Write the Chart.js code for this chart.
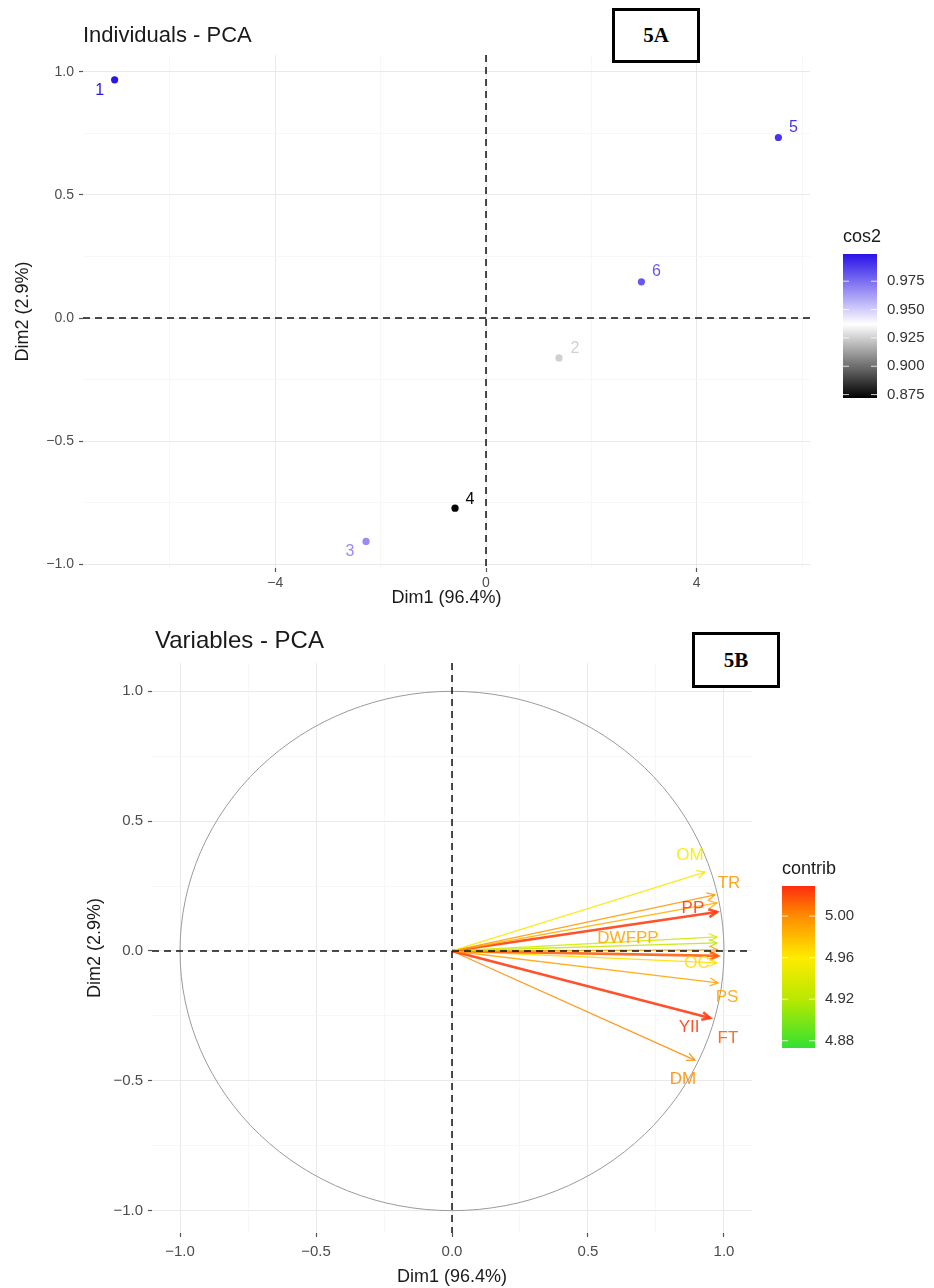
<!DOCTYPE html>
<html>
<head>
<meta charset="utf-8">
<script src="https://cdn.jsdelivr.net/npm/chart.js@4.4.1/dist/chart.umd.min.js"></script>
<style>
html, body { margin: 0; padding: 0; background: #fff; }
#wrap { position: relative; width: 934px; height: 1288px; overflow: hidden; }
#chartA { position: absolute; left: 0; top: 0; }
#chartB { position: absolute; left: 0; top: 610px; }
.tag {
    position: absolute; box-sizing: border-box; border: 3px solid #000; background: #fff;
    font: bold 21px "Liberation Serif", "Times New Roman", serif; color: #000;
    display: flex; align-items: center; justify-content: center;
}
</style>
</head>
<body>
<div id="wrap">
    <canvas id="chartA" width="934" height="610"></canvas>
    <canvas id="chartB" width="934" height="678"></canvas>
    <div class="tag" style="left:612px;top:8px;width:88px;height:55px;">5A</div>
    <div class="tag" style="left:692px;top:632px;width:88px;height:56px;">5B</div>
</div>
<script>
// Individuals (graph 5A)
const indLabels = ['1', '2', '3', '4', '5', '6'];
const indDim1 = [-7.05, 1.385, -2.277, -0.588, 5.55, 2.95];
const indDim2 = [0.967, -0.162, -0.907, -0.772, 0.733, 0.147];
const indCos2 = [0.998, 0.925, 0.967, 0.873, 0.990, 0.981];
const xTicksA = [-4, 0, 4];
const yTicksA = [-1, -0.5, 0, 0.5, 1];
const cos2Ticks = [0.875, 0.900, 0.925, 0.950, 0.975];
const cos2Range = [0.872, 0.999];

// Variables (graph 5B)
const varNames = ['OM', 'TR', '', 'PP', '', '', 'DWFPP', 'FT', 'OC', 'PS', 'YII', 'DM'];
const varDim1 = [0.930, 0.967, 0.974, 0.974, 0.974, 0.974, 0.978, 0.978, 0.974, 0.978, 0.949, 0.893];
const varDim2 = [0.304, 0.216, 0.185, 0.150, 0.054, 0.031, 0.004, -0.019, -0.046, -0.123, -0.258, -0.420];
const varContrib = [4.955, 4.995, 4.985, 5.025, 4.935, 4.925, 4.990, 5.015, 4.965, 4.990, 5.025, 5.000];
const ticksB = [-1, -0.5, 0, 0.5, 1];
const contribTicks = [4.88, 4.92, 4.96, 5.00];
const contribRange = [4.873, 5.029];

const fontFamily = '"Liberation Sans", Arial, Helvetica, sans-serif';

// colour gradients of the two legends
const cos2Stops = [[0.872, [0, 0, 0]], [0.937, [255, 255, 255]], [0.999, [40, 18, 232]]];
const contribStops = [[4.873, [50, 225, 50]], [4.92, [185, 232, 0]], [4.96, [255, 235, 0]], [5.00, [255, 140, 0]], [5.029, [255, 45, 15]]];

// pixel offsets of the text labels (ggrepel placement in the picture)
const indLabelOffset = [[-15, 11], [16, -9], [-16, 10], [15, -9], [15, -10], [15, -10]];
const varLabelOffset = [[-15, -17], [14, -12], null, [-24, -4], null, null, [-90, -12], [10, 82], [-20, 0], [9, 14], [-21, 9], [-12, 19]];

const mixStops = (stops, v) => {
    if (v <= stops[0][0]) return stops[0][1];
    for (let i = 1; i < stops.length; i++) {
        if (v <= stops[i][0]) {
            const [v0, c0] = stops[i - 1];
            const [v1, c1] = stops[i];
            const t = (v - v0) / (v1 - v0);
            return c0.map((c, k) => Math.round(c + (c1[k] - c) * t));
        }
    }
    return stops[stops.length - 1][1];
};
const rgb = (c, a = 1) => `rgba(${c[0]}, ${c[1]}, ${c[2]}, ${a})`;
const signed = (v, d) => (v < 0 ? '\u2212' : '') + Math.abs(v).toFixed(d);

// majors plus ggplot-like minor lines halfway between them
const withMinor = (majors, min, max) => {
    const step = majors[1] - majors[0];
    const out = [];
    for (let v = majors[0] - step / 2; v <= majors[majors.length - 1] + step / 2 + 1e-9; v += step / 2) {
        if (v >= min && v <= max) out.push(Math.round(v * 1000) / 1000);
    }
    return out;
};
const isMajor = (majors, v) => majors.some(m => Math.abs(m - v) < 1e-6);

const makeAxis = (cfg) => ({
    type: 'linear',
    position: cfg.position,
    min: cfg.min,
    max: cfg.max,
    afterBuildTicks: s => { s.ticks = withMinor(cfg.majors, cfg.min, cfg.max).map(v => ({ value: v })); },
    afterFit: s => {
        if (cfg.position === 'left') s.width = cfg.size; else s.height = cfg.size;
    },
    ticks: {
        autoSkip: false, maxRotation: 0, padding: cfg.tickPad,
        color: '#4d4d4d', font: { family: fontFamily, size: cfg.tickSize },
        callback: v => isMajor(cfg.majors, v) ? cfg.fmt(v) : ''
    },
    grid: {
        color: ctx => isMajor(cfg.majors, ctx.tick.value) ? '#e9e9e9' : '#f4f4f4',
        lineWidth: ctx => isMajor(cfg.majors, ctx.tick.value) ? 1 : 0.7,
        tickColor: ctx => isMajor(cfg.majors, ctx.tick.value) ? '#555' : 'rgba(0,0,0,0)',
        tickLength: 4, tickWidth: 1.2
    },
    border: { display: false },
    title: {
        display: true, text: cfg.title, color: '#1a1a1a',
        font: { family: fontFamily, size: 18 }, padding: cfg.titlePad
    }
});

const drawColorbar = (ctx, cb) => {
    const span = cb.range[1] - cb.range[0];
    const g = ctx.createLinearGradient(0, cb.top + cb.h, 0, cb.top);
    cb.stops.forEach(([v, c]) => g.addColorStop(Math.min(1, Math.max(0, (v - cb.range[0]) / span)), rgb(c)));
    ctx.fillStyle = g;
    ctx.fillRect(cb.x, cb.top, cb.w, cb.h);
    ctx.font = `15px ${fontFamily}`;
    ctx.textBaseline = 'middle';
    ctx.textAlign = 'left';
    cb.ticks.forEach(v => {
        const y = cb.top + (cb.range[1] - v) / span * cb.h;
        ctx.strokeStyle = 'rgba(255,255,255,0.8)';
        ctx.lineWidth = 1;
        ctx.beginPath();
        ctx.moveTo(cb.x, y); ctx.lineTo(cb.x + 6, y);
        ctx.moveTo(cb.x + cb.w - 6, y); ctx.lineTo(cb.x + cb.w, y);
        ctx.stroke();
        ctx.fillStyle = '#333';
        ctx.fillText(cb.fmt(v), cb.x + cb.w + 10, y);
    });
    ctx.fillStyle = '#1a1a1a';
    ctx.font = `18px ${fontFamily}`;
    ctx.fillText(cb.title, cb.x, cb.top - 17);
};

const drawZeroLines = (chart) => {
    const { ctx, chartArea: a, scales: { x, y } } = chart;
    ctx.save();
    ctx.strokeStyle = '#111';
    ctx.lineWidth = 1.5;
    ctx.setLineDash([7, 5]);
    ctx.beginPath();
    ctx.moveTo(a.left, y.getPixelForValue(0)); ctx.lineTo(a.right, y.getPixelForValue(0));
    ctx.moveTo(x.getPixelForValue(0), a.top); ctx.lineTo(x.getPixelForValue(0), a.bottom);
    ctx.stroke();
    ctx.restore();
};

const drawTitle = (chart, text, size, dx, ty) => {
    const { ctx, chartArea: a } = chart;
    ctx.save();
    ctx.fillStyle = '#1a1a1a';
    ctx.font = `${size}px ${fontFamily}`;
    ctx.textBaseline = 'middle';
    ctx.fillText(text, a.left + dx, ty);
    ctx.restore();
};

// ---------- 5A : individuals ----------
const indColors = indCos2.map(c => rgb(mixStops(cos2Stops, c)));

const indPlugin = {
    id: 'indPlugin',
    beforeDatasetsDraw(chart) { drawZeroLines(chart); },
    afterDatasetsDraw(chart) {
        const { ctx } = chart;
        const meta = chart.getDatasetMeta(0);
        ctx.save();
        ctx.font = `16px ${fontFamily}`;
        ctx.textAlign = 'center';
        ctx.textBaseline = 'middle';
        meta.data.forEach((pt, i) => {
            ctx.fillStyle = indColors[i];
            ctx.fillText(indLabels[i], pt.x + indLabelOffset[i][0], pt.y + indLabelOffset[i][1]);
        });
        ctx.restore();
    },
    afterDraw(chart) {
        drawTitle(chart, 'Individuals - PCA', 22, 0, 36);
        chart.ctx.save();
        drawColorbar(chart.ctx, {
            x: 843, top: 254, w: 34, h: 144, range: cos2Range, stops: cos2Stops,
            ticks: cos2Ticks, title: 'cos2', fmt: v => v.toFixed(3)
        });
        chart.ctx.restore();
    }
};

new Chart(document.getElementById('chartA'), {
    type: 'scatter',
    data: {
        datasets: [{
            data: indDim1.map((x, i) => ({ x, y: indDim2[i] })),
            backgroundColor: indColors,
            borderWidth: 0,
            pointRadius: 3.6
        }]
    },
    options: {
        responsive: false,
        animation: false,
        layout: { padding: { left: 0, right: 124, top: 55, bottom: 0 } },
        plugins: { legend: { display: false }, tooltip: { enabled: false } },
        scales: {
            x: makeAxis({ position: 'bottom', min: -7.65, max: 6.15, majors: xTicksA, size: 42, tickSize: 14, tickPad: 3,
                fmt: v => signed(v, 0), title: 'Dim1 (96.4%)', titlePad: { top: 0, bottom: 1 } }),
            y: makeAxis({ position: 'left', min: -1.015, max: 1.068, majors: yTicksA, size: 83, tickSize: 14, tickPad: 5,
                fmt: v => signed(v, 1), title: 'Dim2 (2.9%)', titlePad: { top: 12, bottom: 0 } })
        }
    },
    plugins: [indPlugin]
});

// ---------- 5B : variables ----------
const varColors = varContrib.map(c => rgb(mixStops(contribStops, c), 0.88));

const varPlugin = {
    id: 'varPlugin',
    beforeDatasetsDraw(chart) {
        const { ctx, scales: { x, y } } = chart;
        const cx = x.getPixelForValue(0), cy = y.getPixelForValue(0);
        ctx.save();
        ctx.strokeStyle = '#9a9a9a';
        ctx.lineWidth = 1;
        ctx.beginPath();
        ctx.ellipse(cx, cy, x.getPixelForValue(1) - cx, cy - y.getPixelForValue(1), 0, 0, Math.PI * 2);
        ctx.stroke();
        ctx.restore();
    },
    afterDatasetsDraw(chart) {
        const { ctx } = chart;
        ctx.save();
        chart.data.datasets.forEach((ds, i) => {
            const [p0, p1] = chart.getDatasetMeta(i).data;
            const ang = Math.atan2(p1.y - p0.y, p1.x - p0.x);
            const L = 9, h = 0.45;
            ctx.strokeStyle = ds.borderColor;
            ctx.lineWidth = ds.borderWidth;
            ctx.beginPath();
            ctx.moveTo(p1.x - L * Math.cos(ang - h), p1.y - L * Math.sin(ang - h));
            ctx.lineTo(p1.x, p1.y);
            ctx.lineTo(p1.x - L * Math.cos(ang + h), p1.y - L * Math.sin(ang + h));
            ctx.stroke();
        });
        ctx.restore();
        drawZeroLines(chart);
        ctx.save();
        ctx.font = `17px ${fontFamily}`;
        ctx.textAlign = 'center';
        ctx.textBaseline = 'middle';
        chart.data.datasets.forEach((ds, i) => {
            if (!varNames[i]) return;
            const p1 = chart.getDatasetMeta(i).data[1];
            ctx.fillStyle = varColors[i];
            ctx.fillText(varNames[i], p1.x + varLabelOffset[i][0], p1.y + varLabelOffset[i][1]);
        });
        ctx.restore();
    },
    afterDraw(chart) {
        drawTitle(chart, 'Variables - PCA', 24, 3, 31);
        chart.ctx.save();
        drawColorbar(chart.ctx, {
            x: 782, top: 276, w: 33, h: 162, range: contribRange, stops: contribStops,
            ticks: contribTicks, title: 'contrib', fmt: v => v.toFixed(2)
        });
        chart.ctx.restore();
    }
};

new Chart(document.getElementById('chartB'), {
    type: 'scatter',
    data: {
        datasets: varNames.map((name, i) => ({
            label: name,
            data: [{ x: 0, y: 0 }, { x: varDim1[i], y: varDim2[i] }],
            showLine: true,
            borderColor: varColors[i],
            borderWidth: varContrib[i] > 5.01 ? 2.6 : 1.3,
            pointRadius: 0
        }))
    },
    options: {
        responsive: false,
        animation: false,
        layout: { padding: { left: 0, right: 182, top: 53, bottom: 0 } },
        plugins: { legend: { display: false }, tooltip: { enabled: false } },
        scales: {
            x: makeAxis({ position: 'bottom', min: -1.103, max: 1.103, majors: ticksB, size: 55, tickSize: 15, tickPad: 6,
                fmt: v => signed(v, 1), title: 'Dim1 (96.4%)', titlePad: { top: 0, bottom: 0 } }),
            y: makeAxis({ position: 'left', min: -1.086, max: 1.109, majors: ticksB, size: 152, tickSize: 15, tickPad: 5,
                fmt: v => signed(v, 1), title: 'Dim2 (2.9%)', titlePad: { top: 84, bottom: 0 } })
        }
    },
    plugins: [varPlugin]
});
</script>
</body>
</html>
